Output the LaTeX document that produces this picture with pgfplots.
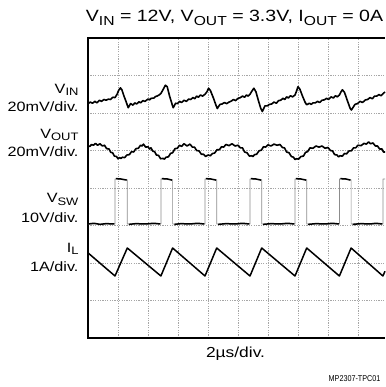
\documentclass[border=0pt]{standalone}
\usepackage{pgfplots}
\pgfplotsset{compat=1.18}
\usepackage{graphicx}
\usepackage{fontspec}
\setmainfont{Liberation Sans}
\newcommand\sub[1]{\raisebox{-0.22em}{\scalebox{0.8}{#1}}}
\newcommand\hs[1]{\scalebox{1.2}[1]{#1}}

\begin{document}
\begin{tikzpicture}
\begin{axis}[
  at={(0,0)}, anchor=south west,
  scale only axis, width=300pt, height=300pt,
  xmin=-0.5, xmax=10.5, ymin=-0.5, ymax=8.5,
  axis line style={draw=none},
  xtick={1,...,9}, ytick={1,...,7},
  xticklabels={}, yticklabels={},
  major tick length=0pt,
  clip=false,
  unbounded coords=jump,
  every axis plot/.append style={line join=round},
  x=30pt, y=37.5pt,
]
% graticule
\addplot[black!35, line width=0.7pt, dash pattern=on 1.2pt off 1.2pt] coordinates {
(1,0)(1,8)(1,nan)(2,0)(2,8)(2,nan)(3,0)(3,8)(3,nan)(4,0)(4,8)(4,nan)(5,0)(5,8)(5,nan)(6,0)(6,8)(6,nan)(7,0)(7,8)(7,nan)(8,0)(8,8)(8,nan)(9,0)(9,8)(9,nan)
(0,1)(9.9,1)(9.9,nan)(0,2)(9.9,2)(9.9,nan)(0,3)(9.9,3)(9.9,nan)(0,4)(9.9,4)(9.9,nan)(0,5)(9.9,5)(9.9,nan)(0,6)(9.9,6)(9.9,nan)(0,7)(9.9,7)
};
% frame: left, top and bottom sides, each its own line, all inside the page
\addplot[black, line width=1.8pt] coordinates {(0,-0.02)(0,1)(0,2)(0,3)(0,4)(0,5)(0,6)(0,7)(0,8.02)};
\addplot[black, line width=1.8pt] coordinates {(0,8)(1,8)(2,8)(3,8)(4,8)(5,8)(6,8)(7,8)(8,8)(9,8)(9.9,8)};
\addplot[black, line width=1.8pt] coordinates {(0,0)(1,0)(2,0)(3,0)(4,0)(5,0)(6,0)(7,0)(8,0)(9,0)(9.9,0)};
% V_IN
\addplot[black, line width=1.6pt] coordinates {
(0.0,6.25)(0.08,6.29)(0.15,6.26)(0.23,6.31)(0.3,6.27)(0.38,6.34)(0.45,6.31)(0.53,6.36)(0.6,6.34)(0.68,6.37)(0.75,6.36)(0.83,6.42)(0.9,6.41)(0.97,6.50)(1.02,6.60)(1.08,6.67)(1.13,6.62)(1.2,6.45)(1.28,6.28)(1.34,6.14)(1.42,6.25)(1.5,6.21)(1.56,6.27)(1.62,6.24)(1.7,6.30)(1.75,6.27)(1.83,6.33)(1.9,6.31)(2.0,6.37)(2.05,6.35)(2.1,6.39)(2.2,6.40)(2.25,6.44)(2.3,6.45)(2.37,6.48)(2.43,6.52)(2.5,6.62)(2.58,6.74)(2.64,6.70)(2.72,6.45)(2.8,6.24)(2.84,6.14)(2.92,6.26)(2.98,6.25)(3.05,6.31)(3.12,6.28)(3.2,6.34)(3.28,6.31)(3.35,6.37)(3.42,6.36)(3.5,6.41)(3.56,6.38)(3.62,6.45)(3.68,6.42)(3.75,6.48)(3.82,6.45)(3.9,6.50)(3.96,6.56)(4.02,6.66)(4.08,6.60)(4.18,6.40)(4.26,6.22)(4.31,6.12)(4.4,6.23)(4.47,6.24)(4.55,6.28)(4.62,6.25)(4.7,6.29)(4.78,6.32)(4.85,6.36)(4.92,6.33)(5.0,6.39)(5.08,6.41)(5.15,6.45)(5.22,6.42)(5.28,6.48)(5.34,6.45)(5.4,6.50)(5.46,6.58)(5.53,6.66)(5.6,6.56)(5.68,6.33)(5.76,6.12)(5.81,6.04)(5.9,6.19)(5.97,6.19)(6.05,6.23)(6.12,6.24)(6.2,6.29)(6.28,6.26)(6.35,6.33)(6.42,6.34)(6.5,6.39)(6.56,6.36)(6.62,6.43)(6.68,6.40)(6.75,6.46)(6.82,6.43)(6.9,6.48)(6.95,6.58)(7.0,6.70)(7.06,6.64)(7.15,6.45)(7.24,6.28)(7.29,6.22)(7.38,6.26)(7.44,6.23)(7.5,6.27)(7.58,6.27)(7.65,6.31)(7.72,6.28)(7.8,6.34)(7.88,6.35)(7.95,6.39)(8.02,6.36)(8.1,6.43)(8.18,6.40)(8.25,6.46)(8.31,6.43)(8.38,6.48)(8.43,6.56)(8.48,6.62)(8.55,6.55)(8.65,6.32)(8.74,6.12)(8.78,6.08)(8.9,6.23)(8.98,6.25)(9.07,6.31)(9.15,6.28)(9.25,6.35)(9.32,6.36)(9.4,6.41)(9.48,6.38)(9.55,6.45)(9.62,6.45)(9.7,6.49)(9.77,6.46)(9.84,6.52)(9.9,6.56)
};
% V_OUT
\addplot[black, line width=1.6pt] coordinates {
(0.0,5.12)(0.06,5.11)(0.12,5.16)(0.18,5.14)(0.25,5.19)(0.32,5.14)(0.4,5.18)(0.48,5.12)(0.55,5.14)(0.62,5.05)(0.7,5.04)(0.76,4.95)(0.82,4.94)(0.88,4.85)(0.95,4.84)(1.0,4.78)(1.05,4.81)(1.1,4.79)(1.15,4.82)(1.22,4.81)(1.3,4.88)(1.38,4.89)(1.45,4.97)(1.52,4.96)(1.6,5.05)(1.68,5.06)(1.75,5.14)(1.8,5.12)(1.85,5.17)(1.92,5.09)(2.0,5.10)(2.05,5.04)(2.1,5.07)(2.16,4.98)(2.22,4.97)(2.28,4.88)(2.35,4.87)(2.42,4.78)(2.5,4.79)(2.55,4.77)(2.6,4.82)(2.68,4.83)(2.75,4.92)(2.82,4.94)(2.9,5.05)(2.98,5.06)(3.05,5.14)(3.12,5.11)(3.2,5.18)(3.3,5.12)(3.4,5.17)(3.48,5.09)(3.55,5.09)(3.62,5.00)(3.7,4.99)(3.78,4.90)(3.85,4.90)(3.92,4.84)(4.0,4.88)(4.08,4.86)(4.15,4.92)(4.22,4.93)(4.3,5.02)(4.38,5.02)(4.45,5.10)(4.52,5.09)(4.6,5.16)(4.7,5.13)(4.8,5.18)(4.9,5.12)(5.0,5.14)(5.08,5.07)(5.15,5.07)(5.22,4.96)(5.3,4.94)(5.38,4.85)(5.45,4.86)(5.5,4.84)(5.55,4.89)(5.62,4.90)(5.7,4.99)(5.78,5.01)(5.85,5.10)(5.92,5.09)(6.0,5.15)(6.1,5.12)(6.2,5.17)(6.3,5.14)(6.4,5.16)(6.48,5.08)(6.55,5.07)(6.62,4.96)(6.7,4.94)(6.78,4.84)(6.85,4.82)(6.9,4.76)(6.95,4.78)(7.02,4.77)(7.1,4.84)(7.18,4.85)(7.25,4.95)(7.32,4.97)(7.4,5.07)(7.5,5.06)(7.6,5.12)(7.7,5.09)(7.8,5.12)(7.9,5.06)(8.0,5.08)(8.08,5.00)(8.15,4.99)(8.22,4.89)(8.3,4.88)(8.35,4.83)(8.4,4.86)(8.48,4.85)(8.55,4.92)(8.62,4.91)(8.7,4.99)(8.78,4.99)(8.85,5.07)(8.92,5.07)(9.0,5.14)(9.1,5.13)(9.2,5.19)(9.28,5.17)(9.35,5.23)(9.42,5.18)(9.5,5.20)(9.58,5.12)(9.65,5.12)(9.72,5.04)(9.8,5.04)(9.85,4.96)(9.9,4.96)
};
% V_SW edges (faint)
\addplot[black!45, line width=0.7pt] coordinates {
(0,3.04)(0.9,3.04)(0.9,4.24)(1.31,4.22)(1.31,3.04)(2.43,3.04)(2.43,4.24)(2.82,4.22)(2.82,3.04)(3.9,3.04)(3.9,4.24)(4.29,4.22)(4.29,3.04)(5.4,3.04)(5.4,4.24)(5.79,4.22)(5.79,3.04)(6.9,3.04)(6.9,4.24)(7.29,4.22)(7.29,3.04)(8.38,3.04)(8.38,4.24)(8.77,4.22)(8.77,3.04)(9.83,3.04)(9.83,4.24)(9.9,4.24)
};
% V_SW levels
\addplot[black, line width=1.5pt] coordinates {
(0,3.04)(0.2,3.06)(0.4,3.03)(0.6,3.05)(0.88,3.04)(0.88,nan)
(0.93,4.25)(1.1,4.24)(1.29,4.21)(1.29,nan)
(1.36,3.03)(1.6,3.05)(1.9,3.04)(2.2,3.06)(2.41,3.04)(2.41,nan)
(2.46,4.25)(2.65,4.24)(2.8,4.21)(2.8,nan)
(2.88,3.03)(3.1,3.05)(3.4,3.04)(3.65,3.06)(3.88,3.04)(3.88,nan)
(3.93,4.25)(4.1,4.24)(4.27,4.21)(4.27,nan)
(4.34,3.03)(4.6,3.05)(4.9,3.04)(5.15,3.06)(5.38,3.04)(5.38,nan)
(5.43,4.25)(5.6,4.24)(5.77,4.21)(5.77,nan)
(5.84,3.03)(6.1,3.05)(6.4,3.04)(6.65,3.06)(6.88,3.04)(6.88,nan)
(6.93,4.25)(7.1,4.24)(7.27,4.21)(7.27,nan)
(7.34,3.03)(7.6,3.05)(7.9,3.04)(8.15,3.06)(8.36,3.04)(8.36,nan)
(8.41,4.25)(8.6,4.24)(8.75,4.21)(8.75,nan)
(8.82,3.03)(9.1,3.05)(9.4,3.04)(9.6,3.06)(9.81,3.04)
};
% I_L
\addplot[black, line width=1.5pt] coordinates {
(0,2.27)(0.9,1.653)(1.31,2.4)(2.43,1.653)(2.82,2.4)(3.9,1.653)(4.29,2.4)(5.4,1.653)(5.79,2.4)(6.9,1.653)(7.29,2.4)(8.38,1.653)(8.77,2.4)(9.83,1.653)(9.9,1.78)
};
% labels
\node[anchor=base, font=\fontsize{16.3}{18}\selectfont] at (axis cs:4.883,8.435) {\hs{V\sub{IN} = 12V, V\sub{OUT} = 3.3V, I\sub{OUT} = 0A}};
\node[anchor=base east, font=\fontsize{13.5}{15}\selectfont] at (axis cs:-0.2,6.533) {\hs{V\sub{IN}}};
\node[anchor=base east, font=\fontsize{13.5}{15}\selectfont] at (axis cs:-0.2,6.027) {\hs{20mV/div.}};
\node[anchor=base east, font=\fontsize{13.5}{15}\selectfont] at (axis cs:-0.2,5.333) {\hs{V\sub{OUT}}};
\node[anchor=base east, font=\fontsize{13.5}{15}\selectfont] at (axis cs:-0.2,4.827) {\hs{20mV/div.}};
\node[anchor=base east, font=\fontsize{13.5}{15}\selectfont] at (axis cs:-0.2,3.6) {\hs{V\sub{SW}}};
\node[anchor=base east, font=\fontsize{13.5}{15}\selectfont] at (axis cs:-0.2,3.067) {\hs{10V/div.}};
\node[anchor=base east, font=\fontsize{13.5}{15}\selectfont] at (axis cs:-0.2,2.293) {\hs{I\sub{L}}};
\node[anchor=base east, font=\fontsize{13.5}{15}\selectfont] at (axis cs:-0.2,1.76) {\hs{1A/div.}};
\node[anchor=base, font=\fontsize{14.5}{16}\selectfont] at (axis cs:4.917,-0.533) {\hs{2µs/div.}};
\node[anchor=base east, font=\fontsize{8.5}{9}\selectfont] at (axis cs:9.867,-1.173) {\scalebox{0.85}[1]{MP2307-TPC01}};
\coordinate (origin) at (axis cs:0,0);
\end{axis}
\pgfresetboundingbox
\path[use as bounding box] (origin) ++(-88pt,-49pt) rectangle ++(385pt,387pt);
\end{tikzpicture}
\end{document}
